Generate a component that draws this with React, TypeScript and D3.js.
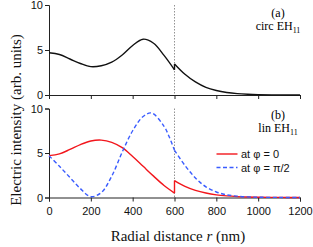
import React, { useEffect, useRef } from 'react';
import * as d3 from 'd3';

// radial distance (nm) and intensity
const circInnerR = [0, 50, 100, 150, 200, 250, 300, 350, 400, 450, 500, 550, 600];
const circInner = [4.7, 4.5, 4.0, 3.5, 3.15, 3.25, 3.65, 4.45, 5.5, 6.2, 5.75, 4.4, 2.8];
const outerR = [600, 650, 700, 750, 800, 850, 900, 950, 1000, 1100, 1200];
const circOuter = [3.45, 2.3, 1.45, 0.85, 0.5, 0.28, 0.15, 0.08, 0.04, 0.01, 0];

const linInnerR = [0, 50, 100, 150, 200, 250, 300, 350, 400, 450, 500, 550, 600];
const redInner = [4.7, 4.9, 5.4, 5.95, 6.35, 6.45, 6.2, 5.6, 4.6, 3.5, 2.4, 1.35, 0.5];
const redOuter = [1.9, 1.25, 0.8, 0.5, 0.3, 0.18, 0.1, 0.05, 0.03, 0.01, 0];

const blueInnerR = [0, 50, 100, 150, 200, 250, 300, 350, 400, 450, 490, 550, 575, 600];
const blueInner = [4.7, 3.5, 2.25, 1.0, 0.1, 0.55, 2.4, 5.1, 7.5, 9.1, 9.5, 8.0, 6.8, 5.3];
const blueOuter = [5.3, 3.6, 2.2, 1.2, 0.62, 0.3, 0.15, 0.07, 0.03, 0.01, 0];

const xTicks = [0, 200, 400, 600, 800, 1000, 1200];
const yTicks = [0, 5, 10];

const W = 313;
const H = 247;
const sans = "'Liberation Sans', Arial, sans-serif";
const serif = "'Liberation Serif', 'Times New Roman', serif";

export default function App() {
  const ref = useRef<SVGSVGElement>(null);

  useEffect(() => {
    const svg = d3.select(ref.current);
    svg.selectAll('*').remove();

    const x = d3.scaleLinear().domain([0, 1200]).range([49, 300]);
    const yTop = d3.scaleLinear().domain([0, 10]).range([95, 5]);
    const yBot = d3.scaleLinear().domain([0, 10]).range([197.5, 108.5]);

    const panel = (y: d3.ScaleLinear<number, number>, labels: boolean) => {
      const g = svg.append('g');
      // dotted core boundary
      g.append('line')
        .attr('x1', x(600)).attr('x2', x(600))
        .attr('y1', y(10)).attr('y2', y(0))
        .attr('stroke', '#777').attr('stroke-width', 0.8)
        .attr('stroke-dasharray', '1.5,1.5');

      const xa = g.append('g')
        .attr('transform', `translate(0,${y(0)})`)
        .call(d3.axisBottom(x).tickValues(xTicks).tickSize(4).tickPadding(6)
          .tickFormat(labels ? (d => String(d)) : () => ''));
      const ya = g.append('g')
        .attr('transform', `translate(${x(0)},0)`)
        .call(d3.axisLeft(y).tickValues(yTicks).tickSize(4).tickPadding(2));
      [xa, ya].forEach(a => {
        a.attr('font-family', sans).attr('font-size', 11);
        a.select('.domain').attr('stroke', '#222').attr('stroke-width', 1);
        a.selectAll('line').attr('stroke', '#222');
        a.selectAll('text').attr('fill', '#111');
      });
      return g;
    };

    const gTop = panel(yTop, false);
    const gBot = panel(yBot, true);

    const draw = (g: any, y: any, rs: number[], vs: number[], color: string, dash?: string) => {
      const line = d3.line<number>()
        .x((_, i) => x(rs[i]))
        .y(d => y(d))
        .curve(d3.curveCatmullRom.alpha(0.5));
      g.append('path')
        .attr('d', line(vs))
        .attr('fill', 'none')
        .attr('stroke', color)
        .attr('stroke-width', 1.4)
        .attr('stroke-dasharray', dash || null);
    };

    // (a) circular
    draw(gTop, yTop, circInnerR, circInner, '#111');
    draw(gTop, yTop, [600, 600], [circInner[circInner.length - 1], circOuter[0]], '#111');
    draw(gTop, yTop, outerR, circOuter, '#111');

    // (b) linear
    draw(gBot, yBot, linInnerR, redInner, '#f2161c');
    draw(gBot, yBot, [600, 600], [redInner[redInner.length - 1], redOuter[0]], '#f2161c');
    draw(gBot, yBot, outerR, redOuter, '#f2161c');
    draw(gBot, yBot, blueInnerR, blueInner, '#3a5cff', '4,2.5');
    draw(gBot, yBot, outerR, blueOuter, '#3a5cff', '4,2.5');

    // panel labels
    const lab = (g: any, cx: number, y1: number, tag: string, name: string) => {
      g.append('text').attr('x', cx).attr('y', y1).attr('text-anchor', 'middle')
        .attr('font-family', serif).attr('font-size', 12).text(tag);
      const t = g.append('text').attr('x', cx).attr('y', y1 + 13).attr('text-anchor', 'middle')
        .attr('font-family', serif).attr('font-size', 12);
      t.append('tspan').text(name + ' EH');
      t.append('tspan').attr('font-size', 8).attr('dy', 3).text('11');
    };
    lab(gTop, 278, 17, '(a)', 'circ');
    lab(gBot, 278, 119, '(b)', 'lin');

    // legend
    const leg = [
      { label: 'at φ = 0', color: '#f2161c', dash: null, y: 154 },
      { label: 'at φ = π/2', color: '#3a5cff', dash: '4,2.5', y: 167.5 },
    ];
    leg.forEach(l => {
      gBot.append('line').attr('x1', 216.5).attr('x2', 237.5).attr('y1', l.y).attr('y2', l.y)
        .attr('stroke', l.color).attr('stroke-width', 1.4).attr('stroke-dasharray', l.dash);
      gBot.append('text').attr('x', 241).attr('y', l.y + 4)
        .attr('font-family', sans).attr('font-size', 11).attr('fill', '#111').text(l.label);
    });

    // axis titles
    const xt = svg.append('text').attr('x', 178).attr('y', 241).attr('text-anchor', 'middle')
      .attr('font-family', serif).attr('font-size', 15).attr('fill', '#111');
    xt.append('tspan').text('Radial distance ');
    xt.append('tspan').attr('font-style', 'italic').text('r');
    xt.append('tspan').text(' (nm)');

    svg.append('text')
      .attr('transform', 'translate(21,120) rotate(-90)')
      .attr('text-anchor', 'middle')
      .attr('font-family', serif).attr('font-size', 15).attr('fill', '#111')
      .text('Electric intensity (arb. units)');
  }, []);

  return (
    <svg ref={ref} width={W} height={H}
      style={{ position: 'absolute', left: 0, top: 0, background: '#fff' }} />
  );
}
